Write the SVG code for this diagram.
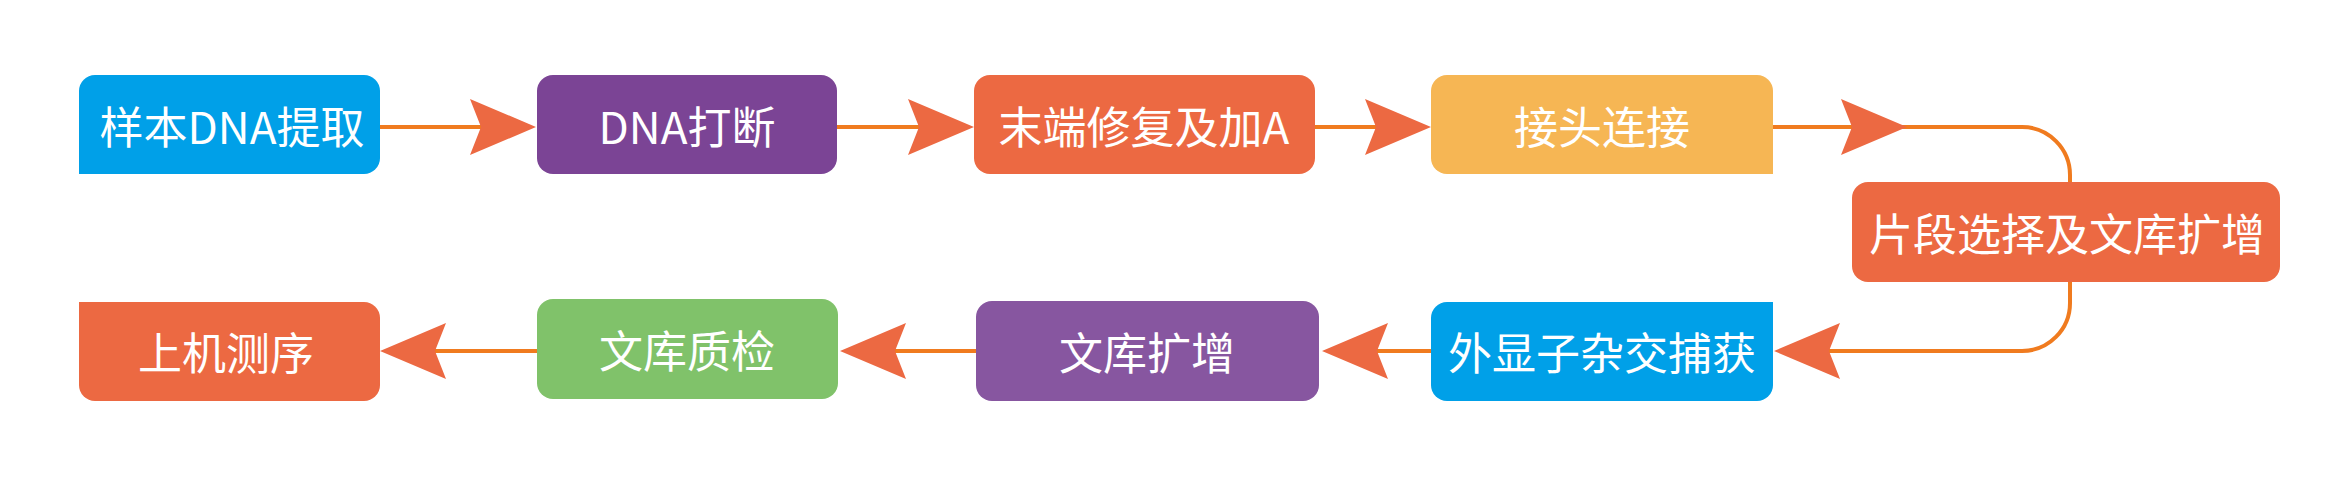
<svg xmlns="http://www.w3.org/2000/svg" xmlns:xlink="http://www.w3.org/1999/xlink" width="2350" height="489" viewBox="0 0 2350 489">
<style>
.lbl{font-family:"Noto Sans CJK SC","Noto Sans",sans-serif;font-size:44px;fill:#ffffff;text-anchor:middle;dominant-baseline:central}
.ln{fill:none;stroke:#F07B1F;stroke-width:4}
.ah{fill:#EC6942}
</style>
<defs>
<polygon id="ah" class="ah" points="0,0 -66,-28 -55,0 -66,28"/>
</defs>
<rect width="2350" height="489" fill="#ffffff"/>
<g id="connectors">
<path class="ln" d="M380 127 H530"/>
<use xlink:href="#ah" href="#ah" transform="translate(536,127)"/>
<path class="ln" d="M837 127 H968"/>
<use xlink:href="#ah" href="#ah" transform="translate(974,127)"/>
<path class="ln" d="M1315 127 H1425"/>
<use xlink:href="#ah" href="#ah" transform="translate(1431,127)"/>
<path class="ln" d="M1772 127 H2022 A48 48 0 0 1 2070 175 V182"/>
<use xlink:href="#ah" href="#ah" transform="translate(1907,127)"/>
<path class="ln" d="M2070 282 V303 A48 48 0 0 1 2022 351 H1780"/>
<use xlink:href="#ah" href="#ah" transform="translate(1774,351) scale(-1,1)"/>
<path class="ln" d="M1431 351 H1328"/>
<use xlink:href="#ah" href="#ah" transform="translate(1322,351) scale(-1,1)"/>
<path class="ln" d="M976 351 H846"/>
<use xlink:href="#ah" href="#ah" transform="translate(840,351) scale(-1,1)"/>
<path class="ln" d="M537 351 H386"/>
<use xlink:href="#ah" href="#ah" transform="translate(380,351) scale(-1,1)"/>
</g>
<g id="n1">
<path fill="#00A0E8" d="M79 91 A16 16 0 0 1 95 75 H364 A16 16 0 0 1 380 91 V158 A16 16 0 0 1 364 174 H79 Z"/>
<text class="lbl" x="232" y="125">样本DNA提取</text>
</g>
<g id="n2">
<rect x="537" y="75" width="300" height="99" rx="16" fill="#7B4495"/>
<text class="lbl" x="687" y="125">DNA打断</text>
</g>
<g id="n3">
<rect x="974" y="75" width="341" height="99" rx="16" fill="#EC6942"/>
<text class="lbl" x="1144" y="125">末端修复及加A</text>
</g>
<g id="n4">
<path fill="#F6B654" d="M1431 91 A16 16 0 0 1 1447 75 H1757 A16 16 0 0 1 1773 91 V174 H1447 A16 16 0 0 1 1431 158 Z"/>
<text class="lbl" x="1602" y="125">接头连接</text>
</g>
<g id="n5">
<rect x="1852" y="182" width="428" height="100" rx="16" fill="#EC6942"/>
<text class="lbl" x="2067" y="232">片段选择及文库扩增</text>
</g>
<g id="n6">
<path fill="#00A0E8" d="M1431 318 A16 16 0 0 1 1447 302 H1773 V385 A16 16 0 0 1 1757 401 H1447 A16 16 0 0 1 1431 385 Z"/>
<text class="lbl" x="1602" y="351">外显子杂交捕获</text>
</g>
<g id="n7">
<rect x="976" y="301" width="343" height="100" rx="16" fill="#8756A0"/>
<text class="lbl" x="1147" y="351">文库扩增</text>
</g>
<g id="n8">
<rect x="537" y="299" width="301" height="100" rx="16" fill="#80C26A"/>
<text class="lbl" x="687" y="349">文库质检</text>
</g>
<g id="n9">
<path fill="#EC6942" d="M79 302 H364 A16 16 0 0 1 380 318 V385 A16 16 0 0 1 364 401 H95 A16 16 0 0 1 79 385 Z"/>
<text class="lbl" x="226" y="351">上机测序</text>
</g>
</svg>
